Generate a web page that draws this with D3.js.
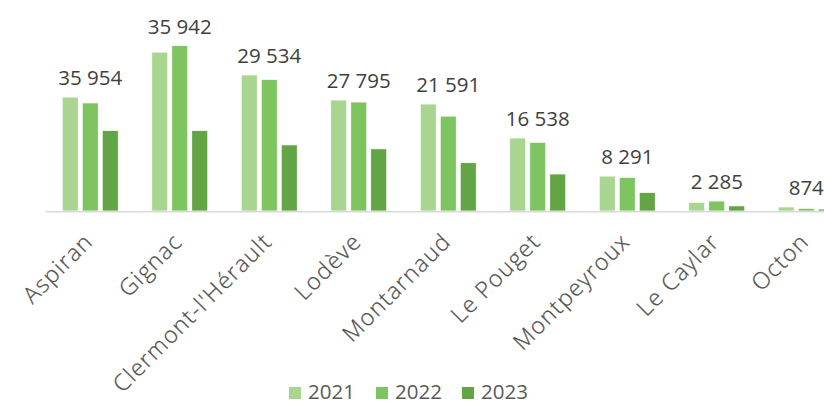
<!DOCTYPE html>
<meta charset="utf-8">
<head>
    <style>
        body { margin: 0; background: #fff; }
        svg { display: block; }
        .value { font-family: "Open Sans"; font-size: 20.5px; fill: #404040; }
        .cat { font-family: "Open Sans"; font-weight: 300; font-size: 23px; letter-spacing: 1.3px; fill: #505050; stroke: #505050; stroke-width: 0.25px; }
        .legend text { font-family: "Open Sans"; font-size: 20.5px; fill: #595959; }
    </style>
</head>
<body>
<script src="https://cdn.jsdelivr.net/npm/d3@7"></script>
<script>
    // data
    var communes = ["Aspiran", "Gignac", "Clermont-l'Hérault", "Lodève", "Montarnaud",
        "Le Pouget", "Montpeyroux", "Le Caylar", "Octon"];
    var years = ["2021", "2022", "2023"];
    var v2021 = [50900, 71000, 60800, 49600, 47800, 32600, 15600, 3900, 1800];
    var v2022 = [48300, 73900, 58800, 48700, 42400, 30700, 15050, 4450, 1200];
    var v2023 = [35954, 35942, 29534, 27795, 21591, 16538, 8291, 2285, 874];
    var colors = ["#a8d58f", "#7ec460", "#63a444"];

    var width = 824, height = 405;
    var baseY = 211;

    var series = [v2021, v2022, v2023];
    var data = communes.map(function(c, i) {
        return { name: c, values: series.map(function(s) { return s[i]; }) };
    });

    var svg = d3.select("body").append("svg")
        .attr("width", width)
        .attr("height", height);

    // the plot runs past the right edge, as in the original
    var x = d3.scaleBand().domain(communes).range([45.5, 851]);
    var xs = d3.scaleBand().domain(years)
        .range([16.75, x.bandwidth() - 16.75])
        .paddingInner(0.2);
    var y = d3.scaleLinear().domain([0, 80000]).range([baseY, baseY - 179]);

    var g = svg.selectAll(".grp")
        .data(data)
        .enter().append("g")
        .attr("class", "grp")
        .attr("transform", function(d) { return "translate(" + x(d.name) + ",0)"; });

    g.selectAll("rect")
        .data(function(d) { return d.values; })
        .enter().append("rect")
        .attr("x", function(d, i) { return xs(years[i]); })
        .attr("width", xs.bandwidth())
        .attr("y", function(d) { return y(d); })
        .attr("height", function(d) { return baseY - y(d); })
        .style("fill", function(d, i) { return colors[i]; })
        .style("stroke", "#fff")
        .style("stroke-width", 0.75);

    // axis line
    svg.append("line")
        .attr("x1", x.range()[0]).attr("x2", width)
        .attr("y1", baseY + 0.75).attr("y2", baseY + 0.75)
        .style("stroke", "#d9d9d9")
        .style("stroke-width", 1.5);

    // labels of the 2023 values, above each group
    var fmt = function(v) { return d3.format(",")(v).replace(/,/g, " "); };
    g.append("text")
        .attr("class", "value")
        .attr("x", x.bandwidth() / 2)
        .attr("y", function(d) { return y(d3.max(d.values)) - 12; })
        .attr("text-anchor", "middle")
        .text(function(d) { return fmt(d.values[2]); });

    // category labels
    svg.selectAll(".cat")
        .data(communes)
        .enter().append("text")
        .attr("class", "cat")
        .attr("text-anchor", "end")
        .attr("transform", function(d) {
            return "translate(" + (x(d) + x.bandwidth() / 2 + 4) + ",243) rotate(-45)";
        })
        .text(function(d) { return d; });

    // legend
    var legend = svg.append("g").attr("class", "legend");
    var lx = d3.scaleOrdinal().domain(years).range([289, 376, 462]);
    var item = legend.selectAll("g")
        .data(years)
        .enter().append("g")
        .attr("transform", function(d) { return "translate(" + lx(d) + ",0)"; });
    item.append("rect")
        .attr("y", 387)
        .attr("width", 12)
        .attr("height", 12)
        .style("fill", function(d, i) { return colors[i]; });
    item.append("text")
        .attr("x", 19)
        .attr("y", 399)
        .text(function(d) { return d; });
</script>
</body>
